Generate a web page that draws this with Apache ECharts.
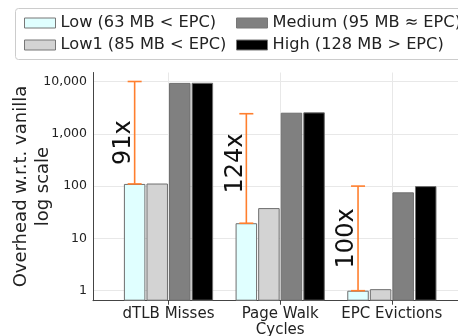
<!DOCTYPE html>
<html><head><meta charset="utf-8">
<script src="https://cdn.jsdelivr.net/npm/echarts@6/dist/echarts.min.js"></script>
<style>html,body{margin:0;padding:0;background:#fff}#c{width:458px;height:336px}</style>
</head><body><div id="c"></div>
<script>
// ---- data ----
const categories = ['dTLB Misses', 'Page Walk\nCycles', 'EPC Evictions'];
const seriesNames = ['Low (63 MB < EPC)', 'Low1 (85 MB < EPC)', 'Medium (95 MB \u2248 EPC)', 'High (128 MB > EPC)'];
const lowValues = [110, 19.5, 1.0];
const low1Values = [112, 38, 1.07];
const mediumValues = [9400, 2530, 76];
const highValues = [9450, 2570, 100];
const errLow = [110, 19.5, 1.0];
const errHigh = [10000, 2420, 100];
const ratioLabels = ['91x', '124x', '100x'];
const yTicks = [1, 10, 100, 1000, 10000];

// ---- style ----
const colors = ['#e0ffff', '#d3d3d3', '#808080', '#000000'];
const BAR_W = 21.5;
const labelNudge = [10, -5, 0];
const Y_MIN = 0.644, Y_MAX = 14860;
const TXT = '#222';
const FONT = 'DejaVu Sans';

const allVals = [lowValues, low1Values, mediumValues, highValues];
const barSeries = allVals.map((vals, i) => ({
  name: seriesNames[i],
  type: 'bar',
  barWidth: BAR_W,
  barGap: '5%',
  data: vals.map((v, k) => [k, v]),
  itemStyle: { color: colors[i], borderColor: '#6e6e6e', borderWidth: 1 },
  z: 3
}));

const errSeries = {
  type: 'custom',
  z: 5,
  data: errLow.map((v, k) => [k, v, errHigh[k]]),
  renderItem: function (params, api) {
    const k = api.value(0);
    const c = api.coord([k, api.value(1)]);
    const t = api.coord([k, api.value(2)]);
    const x = c[0] - 1.5 * BAR_W - 1.6;
    const capW = 7;
    const sty = { stroke: '#ff7f2e', lineWidth: 1.6 };
    const midY = (c[1] + t[1]) / 2 + labelNudge[params.dataIndex];
    return {
      type: 'group',
      children: [
        { type: 'line', shape: { x1: x, y1: c[1], x2: x, y2: t[1] }, style: sty },
        { type: 'line', shape: { x1: x - capW, y1: c[1], x2: x + capW, y2: c[1] }, style: sty },
        { type: 'line', shape: { x1: x - capW, y1: t[1], x2: x + capW, y2: t[1] }, style: sty },
        { type: 'text', x: x - 11, y: midY, rotation: Math.PI / 2,
          style: { text: ratioLabels[params.dataIndex], fill: '#111', font: '24px "DejaVu Sans"',
                   align: 'center', verticalAlign: 'middle' } }
      ]
    };
  }
};

const chart = echarts.init(document.getElementById('c'), null, { renderer: 'canvas' });
chart.setOption({
  animation: false,
  backgroundColor: '#fff',
  textStyle: { fontFamily: FONT, color: TXT },
  grid: { left: 93, right: -20, top: 72.5, bottom: 35.3, containLabel: false, outerBoundsMode: 'none' },
  graphic: [{
    type: 'rect', left: 15, top: 8, z: 0,
    shape: { width: 470, height: 51, r: 3 },
    style: { fill: '#fff', stroke: '#cccccc', lineWidth: 1 }
  }],
  legend: [
    { data: [seriesNames[0], seriesNames[1]], orient: 'vertical', left: 24, top: 15, padding: 0,
      itemWidth: 31, itemHeight: 10, itemGap: 6, icon: 'rect',
      itemStyle: { borderColor: '#777', borderWidth: 1 },
      textStyle: { fontSize: 16.2, fontFamily: FONT, color: TXT } },
    { data: [seriesNames[2], seriesNames[3]], orient: 'vertical', left: 236, top: 15, padding: 0,
      itemWidth: 31, itemHeight: 10, itemGap: 6, icon: 'rect',
      itemStyle: { borderColor: '#777', borderWidth: 1 },
      textStyle: { fontSize: 16.2, fontFamily: FONT, color: TXT } }
  ],
  xAxis: {
    type: 'value',
    min: -0.676, max: 2.771,
    axisLine: { show: true, onZero: false, lineStyle: { color: '#444', width: 1 } },
    axisTick: { show: true, customValues: [0, 1, 2], length: 4, lineStyle: { color: '#444' } },
    axisLabel: { customValues: [0, 1, 2], formatter: v => categories[v], fontSize: 15,
                 fontFamily: FONT, color: TXT, margin: 5, lineHeight: 16 },
    splitLine: { show: true, lineStyle: { color: '#e8e8e8', width: 1 } }
  },
  yAxis: {
    type: 'log', logBase: 10,
    min: Y_MIN, max: Y_MAX, startValue: Y_MIN,
    name: 'Overhead w.r.t. vanilla\nlog scale',
    nameLocation: 'middle', nameRotate: 90, nameGap: 39, nameMoveOverlap: false,
    nameTextStyle: { fontSize: 18, fontFamily: FONT, color: TXT, lineHeight: 22 },
    axisLine: { show: true, onZero: false, lineStyle: { color: '#444', width: 1 } },
    axisTick: { show: false, customValues: yTicks },
    axisLabel: { customValues: yTicks, formatter: v => Number(v).toLocaleString('en-US'),
                 fontSize: 12.5, fontFamily: FONT, color: TXT, margin: 6 },
    splitLine: { show: true, lineStyle: { color: '#e8e8e8', width: 1 } }
  },
  series: barSeries.concat([errSeries])
});
</script></body></html>
